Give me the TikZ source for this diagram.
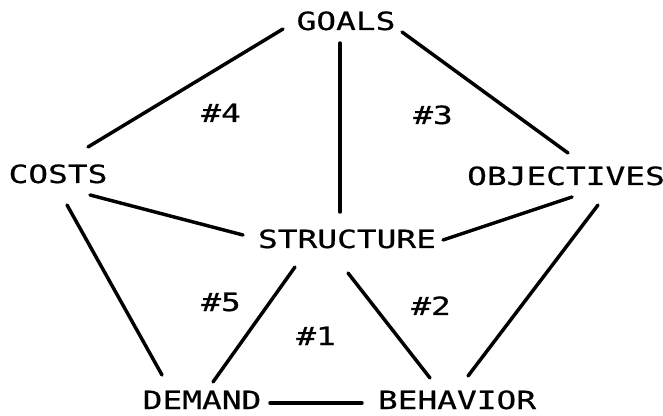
\documentclass[tikz,border=0pt]{standalone}
\usepackage{fontspec}
\newfontfamily\plotfont[FakeStretch=1.31,FakeBold=0.6]{DejaVu Sans Mono}
\begin{document}
\begin{tikzpicture}[x=0.75pt,y=-0.75pt,
  lbl/.style={inner sep=0pt,text height=13.5pt,text depth=0pt,
    font=\plotfont\fontsize{18.8pt}{20pt}\selectfont},
  link/.style={line width=2.6pt,line cap=round}]
\useasboundingbox[fill=white] (0,0) rectangle (663,416);
\node[lbl] (goals) at (346,21) {GOALS};
\node[lbl] (costs) at (58,174) {COSTS};
\node[lbl] (objectives) at (566,176) {OBJECTIVES};
\node[lbl] (structure) at (347,239) {STRUCTURE};
\node[lbl] (demand) at (202,400) {DEMAND};
\node[lbl] (behavior) at (457,400) {BEHAVIOR};
\node[lbl] (n4) at (221,113) {\#4};
\node[lbl] (n3) at (433,115) {\#3};
\node[lbl] (n5) at (221,302) {\#5};
\node[lbl] (n2) at (431,306) {\#2};
\node[lbl] (n1) at (316,336) {\#1};
\draw[link] ([shift={(-63,8)}]goals.center) -- ([shift={(30,-27)}]costs.center);
\draw[link] ([shift={(56,11)}]goals.center) -- ([shift={(2,-23)}]objectives.center);
\draw[link] ([shift={(-6,22)}]goals.center) -- ([shift={(-7,-27)}]structure.center);
\draw[link] ([shift={(32,21)}]costs.center) -- ([shift={(-104,-4)}]structure.center);
\draw[link] ([shift={(6,21)}]objectives.center) -- ([shift={(96,1)}]structure.center);
\draw[link] ([shift={(9,31)}]costs.center) -- ([shift={(-40,-25)}]demand.center);
\draw[link] ([shift={(32,29)}]objectives.center) -- ([shift={(11,-24)}]behavior.center);
\draw[link] ([shift={(-52,28)}]structure.center) -- ([shift={(11,-18)}]demand.center);
\draw[link] ([shift={(1,34)}]structure.center) -- ([shift={(-27,-22)}]behavior.center);
\draw[link] ([shift={(68,3)}]demand.center) -- ([shift={(-95,3)}]behavior.center);
\end{tikzpicture}
\end{document}
